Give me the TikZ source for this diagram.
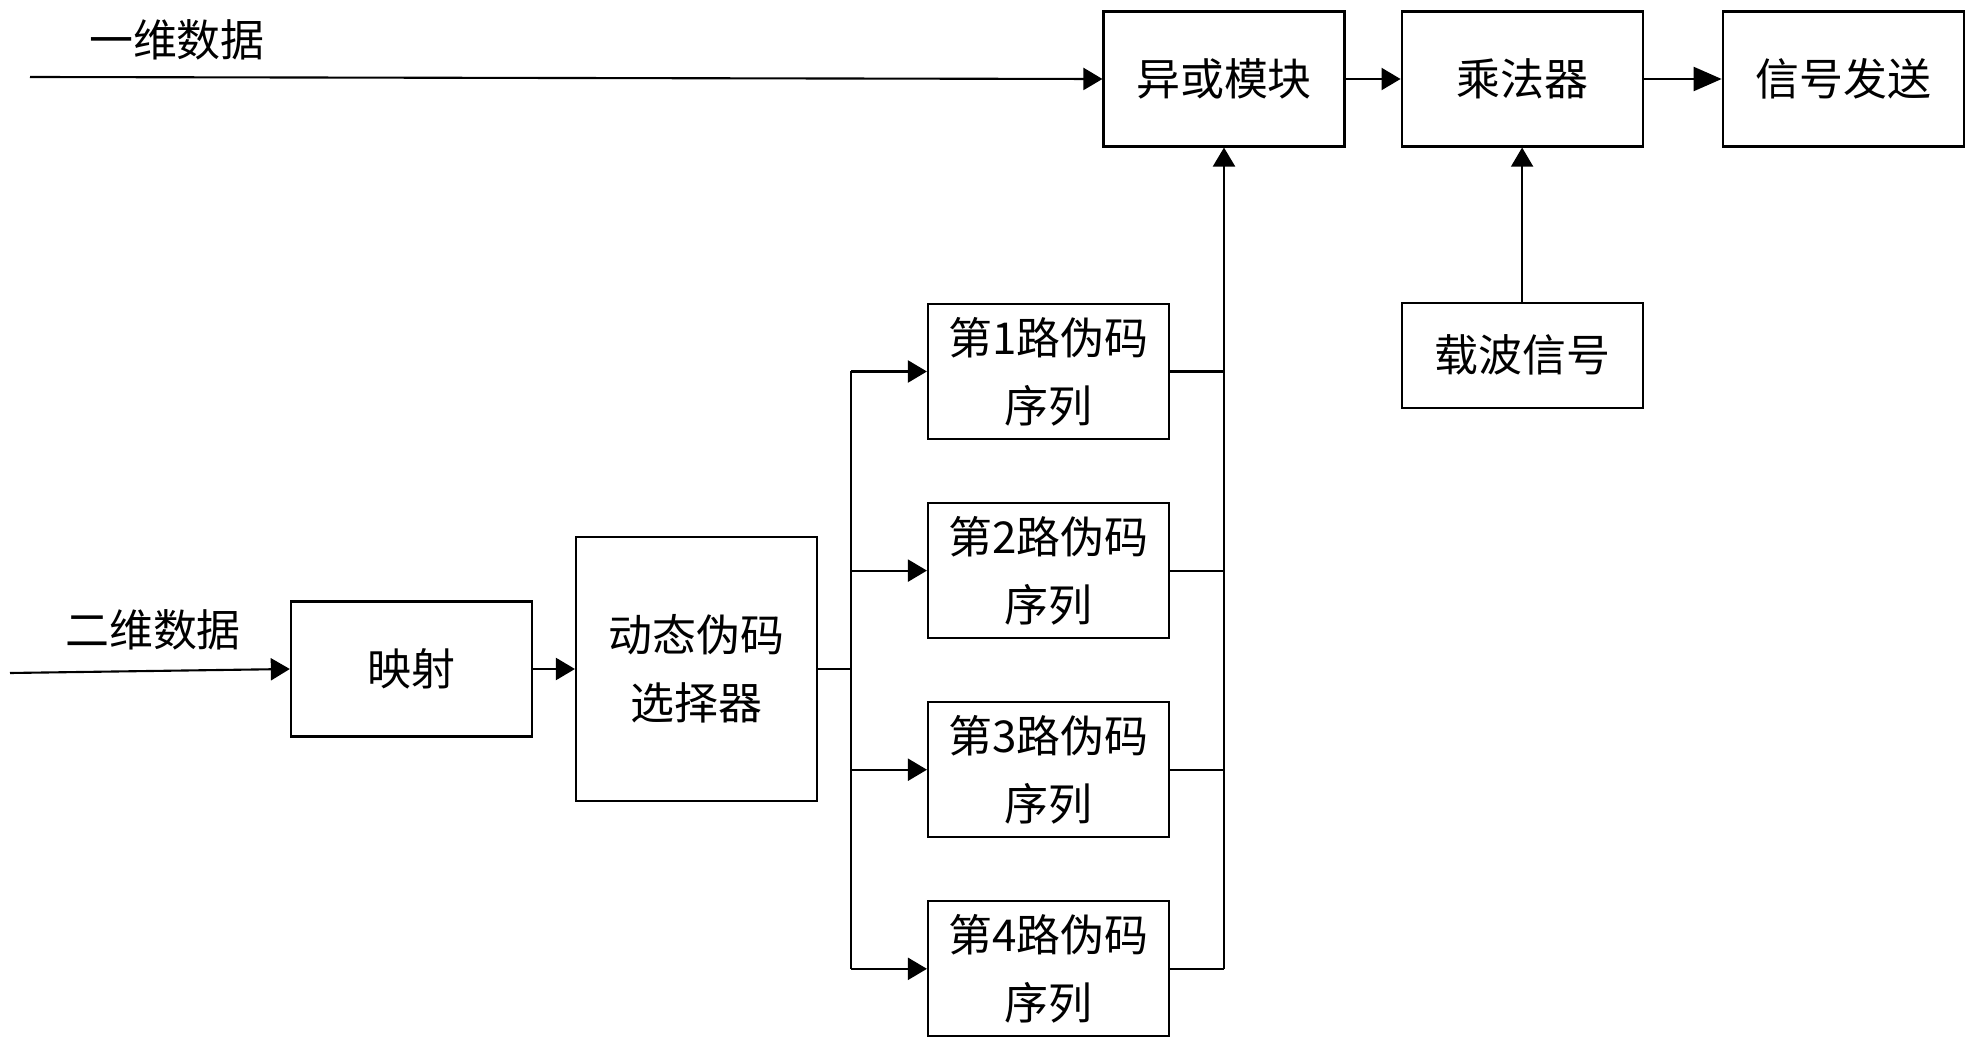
\documentclass[tikz,border=0pt]{standalone}
\usepackage{fontspec}
\newfontfamily\cjk{Noto Sans CJK SC}
\usetikzlibrary{arrows.meta, positioning}

\begin{document}
\begin{tikzpicture}[
    box/.style={draw, line width=0.6pt, minimum width=2.41cm, minimum height=1.35cm, inner sep=0pt, align=center},
    arr/.style={line width=0.6pt, -{Triangle[length=1.9mm, width=2.2mm]}},
    font=\cjk\fontsize{12.5}{19.3}\selectfont]
    \useasboundingbox (0,0) rectangle (19.73,10.44);
    \node[box] (xor) at (12.24,9.65) {异或模块};
    \node[box, right=0.55cm of xor] (mul) {乘法器};
    \node[box, right=0.78cm of mul] (send) {信号发送};
    \node[box, minimum height=1.05cm, below=1.54cm of mul] (carrier) {载波信号};
    \node[box] (seq1) at (10.485,6.725) {第1路伪码\\序列};
    \node[box, below=0.62cm of seq1] (seq2) {第2路伪码\\序列};
    \node[box, below=0.62cm of seq2] (seq3) {第3路伪码\\序列};
    \node[box, below=0.62cm of seq3] (seq4) {第4路伪码\\序列};
    \node[box, minimum height=2.64cm] (dyn) at (6.965,3.75) {动态伪码\\选择器};
    \node[box, left=0.42cm of dyn] (map) {映射};
    \node (lab1) at (1.77,10.04) {一维数据};
    \node (lab2) at (1.53,4.14) {二维数据};
    \coordinate (in1) at (0.30,9.67);
    \coordinate (in2) at (0.10,3.71);
    \coordinate (split) at (8.51,3.75);
    % inputs
    \draw[arr] (in1) -- (xor.west);
    \draw[arr] (in2) -- (map.west);
    \draw[arr] (map) -- (dyn);
    % branch to the four sequences
    \draw[line width=0.6pt] (dyn.east) -- (split);
    \draw[line width=0.6pt] (split |- seq1) -- (split |- seq4);
    \draw[arr] (split |- seq1) -- (seq1.west);
    \draw[arr] (split |- seq2) -- (seq2.west);
    \draw[arr] (split |- seq3) -- (seq3.west);
    \draw[arr] (split |- seq4) -- (seq4.west);
    % merge into the xor block
    \draw[line width=0.6pt] (seq1.east) -- (xor.south |- seq1);
    \draw[line width=0.6pt] (seq2.east) -- (xor.south |- seq2);
    \draw[line width=0.6pt] (seq3.east) -- (xor.south |- seq3);
    \draw[line width=0.6pt] (seq4.east) -- (xor.south |- seq4);
    \draw[arr] (xor.south |- seq4) -- (xor.south);
    % output chain
    \draw[arr] (xor) -- (mul);
    \draw[line width=0.6pt, -{Triangle[length=2.8mm, width=2.4mm]}] (mul) -- (send);
    \draw[arr, line width=0.4pt] (carrier) -- (mul);
\end{tikzpicture}
\end{document}
